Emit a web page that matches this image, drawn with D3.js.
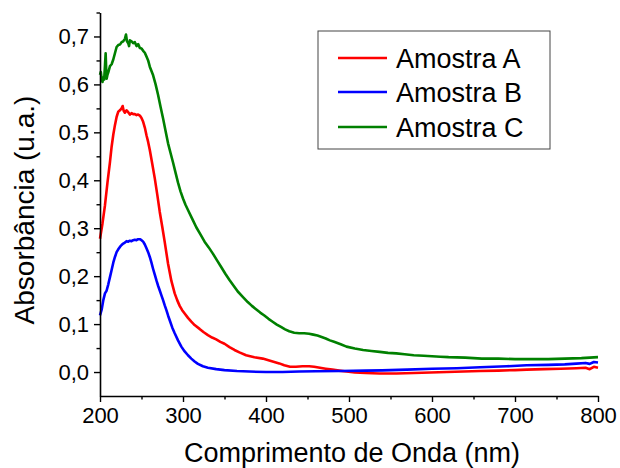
<!DOCTYPE html>
<html>
<head>
<meta charset="utf-8">
<script src="https://cdn.jsdelivr.net/npm/d3@7"></script>
<style>
  html, body { margin: 0; padding: 0; background: #fff; }
  svg { display: block; font-family: "Liberation Sans", Arial, sans-serif; }
</style>
</head>
<body>
<svg id="chart" width="620" height="468"></svg>
<script>
// ---- data ----
const seriesNames = ["Amostra A", "Amostra B", "Amostra C"];
const seriesColors = ["#ff0000", "#0000ff", "#008000"];

const amostraA = [[200,0.278],[203,0.31],[206,0.348],[209,0.395],[212,0.438],[214,0.47],[216,0.495],[218,0.515],[220,0.532],[222,0.543],[224,0.546],[226,0.55],[227.3,0.555],[228.5,0.545],[230,0.541],[232,0.546],[234,0.542],[236,0.537],[238,0.54],[240,0.538],[242,0.538],[244,0.536],[246,0.537],[248,0.535],[250,0.53],[252,0.522],[254,0.51],[256,0.494],[258,0.48],[260,0.463],[263,0.434],[266,0.404],[269,0.37],[272,0.334],[275,0.303],[278,0.271],[282,0.226],[286,0.19],[290,0.164],[293,0.15],[296,0.138],[299,0.129],[302,0.122],[306,0.113],[310,0.105],[314,0.098],[320,0.09],[325,0.083],[330,0.077],[335,0.072],[340,0.068],[345,0.063],[350,0.059],[356,0.052],[362,0.046],[368,0.041],[376,0.035],[386,0.031],[396,0.028],[406,0.023],[416,0.018],[422,0.014],[429,0.011],[436,0.011],[444,0.012],[452,0.012],[458,0.011],[465,0.009],[472,0.007],[480,0.005],[488,0.003],[497,0.001],[507,-0.001],[520,-0.002],[537,-0.003],[557,-0.003],[578,-0.002],[598,-0.001],[618,0.0],[638,0.001],[658,0.002],[680,0.003],[700,0.004],[714,0.005],[735,0.006],[755,0.007],[774,0.008],[785,0.009],[790,0.006],[795,0.011],[800,0.009]];

const amostraB = [[200,0.118],[202,0.13],[204,0.15],[206,0.164],[208,0.17],[210,0.183],[212,0.198],[214,0.213],[216,0.228],[218,0.24],[220,0.25],[222,0.256],[224,0.261],[226,0.265],[228,0.268],[230,0.27],[232,0.273],[234,0.272],[236,0.274],[238,0.273],[240,0.275],[242,0.276],[244,0.275],[246,0.277],[248,0.277],[250,0.275],[252,0.272],[254,0.266],[256,0.258],[258,0.25],[260,0.24],[262,0.228],[264,0.215],[266,0.203],[268,0.191],[270,0.18],[272,0.17],[274,0.16],[276,0.15],[278,0.139],[280,0.129],[282,0.118],[284,0.108],[287,0.093],[290,0.081],[294,0.066],[298,0.053],[302,0.043],[306,0.035],[310,0.028],[314,0.022],[318,0.017],[324,0.012],[330,0.009],[340,0.006],[350,0.004],[365,0.002],[380,0.001],[400,0.0],[420,0.0],[440,0.001],[460,0.0015],[490,0.002],[520,0.003],[540,0.0035],[570,0.005],[600,0.007],[630,0.008],[658,0.01],[690,0.012],[714,0.014],[740,0.015],[760,0.016],[774,0.0175],[785,0.019],[790,0.017],[795,0.021],[800,0.02]];

const amostraC = [[200,0.62],[201,0.626],[202,0.612],[203,0.605],[204,0.615],[205,0.61],[206,0.64],[206.8,0.665],[207.5,0.63],[208,0.612],[209,0.62],[210,0.625],[212,0.638],[214,0.642],[216,0.652],[218,0.665],[220,0.678],[222,0.682],[224,0.683],[226,0.688],[228,0.69],[230,0.695],[231.3,0.704],[232.5,0.69],[234,0.686],[235,0.68],[236,0.692],[238,0.69],[240,0.686],[242,0.688],[244,0.68],[246,0.684],[248,0.676],[250,0.675],[252,0.67],[254,0.666],[256,0.658],[258,0.65],[260,0.637],[262,0.628],[264,0.619],[267,0.6],[270,0.578],[273,0.553],[276,0.529],[279,0.503],[282,0.477],[285,0.457],[288,0.437],[291,0.416],[294,0.395],[297,0.377],[300,0.362],[303,0.349],[306,0.338],[311,0.32],[316,0.302],[321,0.287],[326,0.272],[331,0.26],[336,0.247],[341,0.233],[346,0.219],[351,0.205],[356,0.192],[361,0.18],[366,0.168],[372,0.157],[378,0.146],[383,0.138],[388,0.131],[393,0.124],[398,0.118],[403,0.111],[408,0.105],[413,0.099],[418,0.094],[423,0.089],[428,0.085],[434,0.082],[440,0.081],[446,0.081],[452,0.080],[457,0.078],[462,0.076],[467,0.073],[472,0.070],[477,0.066],[482,0.063],[490,0.058],[497,0.053],[507,0.049],[517,0.046],[527,0.044],[537,0.042],[547,0.040],[557,0.039],[567,0.037],[578,0.035],[590,0.034],[600,0.033],[610,0.032],[620,0.031],[640,0.030],[660,0.028],[680,0.028],[700,0.027],[720,0.027],[740,0.027],[760,0.028],[780,0.029],[790,0.030],[800,0.031]];

const xTicks = [200, 300, 400, 500, 600, 700, 800];
const xMinorTicks = [250, 350, 450, 550, 650, 750];
const yTicks = [0.0, 0.1, 0.2, 0.3, 0.4, 0.5, 0.6, 0.7];
const yMinorTicks = [0.05, 0.15, 0.25, 0.35, 0.45, 0.55, 0.65, 0.75];
const xTitle = "Comprimento de Onda (nm)";
const yTitle = "Absorbância (u.a.)";

// ---- layout ----
const svg = d3.select("#chart");
const x = d3.scaleLinear().domain([200, 800]).range([100, 598]);
const y = d3.scaleLinear().domain([-0.05, 0.75]).range([396, 12.5]);
const fmt = v => d3.format(".1f")(v).replace(".", ",");

// lines
const line = d3.line().x(d => x(d[0])).y(d => y(d[1]));
[amostraA, amostraB, amostraC].forEach((s, i) => {
  svg.append("path").datum(s)
    .attr("d", line)
    .attr("fill", "none")
    .attr("stroke", seriesColors[i])
    .attr("stroke-width", 2.6)
    .attr("stroke-linejoin", "round");
});

// axes
const xAxis = svg.append("g").attr("transform", `translate(0,${y(-0.05)})`)
  .call(d3.axisBottom(x).tickValues(xTicks).tickFormat(d3.format("d")).tickSize(6).tickSizeOuter(0).tickPadding(5));
const xMinor = svg.append("g").attr("transform", `translate(0,${y(-0.05)})`)
  .call(d3.axisBottom(x).tickValues(xMinorTicks).tickFormat("").tickSize(3.5).tickSizeOuter(0));
const yAxis = svg.append("g").attr("transform", `translate(${x(200)},0)`)
  .call(d3.axisLeft(y).tickValues(yTicks).tickFormat(fmt).tickSize(6).tickSizeOuter(0).tickPadding(5));
const yMinor = svg.append("g").attr("transform", `translate(${x(200)},0)`)
  .call(d3.axisLeft(y).tickValues(yMinorTicks).tickFormat("").tickSize(3.5).tickSizeOuter(0));

[xAxis, xMinor, yAxis, yMinor].forEach(g => {
  g.selectAll("path.domain").attr("stroke", "#000").attr("stroke-width", 1.6);
  g.selectAll(".tick line").attr("stroke", "#000").attr("stroke-width", 1.4);
  g.selectAll(".tick text").attr("fill", "#000").style("font-size", "22px")
    .style("font-family", "'Liberation Sans', Arial, sans-serif");
});
xMinor.select("path.domain").remove();
yMinor.select("path.domain").remove();

// titles
svg.append("text")
  .attr("x", 352).attr("y", 462)
  .attr("text-anchor", "middle")
  .style("font-size", "27px")
  .text(xTitle);
svg.append("text")
  .attr("transform", "translate(34,210) rotate(-90)")
  .attr("text-anchor", "middle")
  .style("font-size", "28px")
  .text(yTitle);

// legend
svg.append("rect")
  .attr("x", 318).attr("y", 31).attr("width", 232).attr("height", 118)
  .attr("fill", "#fff").attr("stroke", "#444").attr("stroke-width", 1);
const legY = [58, 92, 127];
seriesNames.forEach((n, i) => {
  svg.append("line")
    .attr("x1", 338).attr("x2", 387).attr("y1", legY[i]).attr("y2", legY[i])
    .attr("stroke", seriesColors[i]).attr("stroke-width", 2.6);
  svg.append("text")
    .attr("x", 396).attr("y", legY[i] + 9.5)
    .style("font-size", "27px")
    .text(n);
});
</script>
</body>
</html>
